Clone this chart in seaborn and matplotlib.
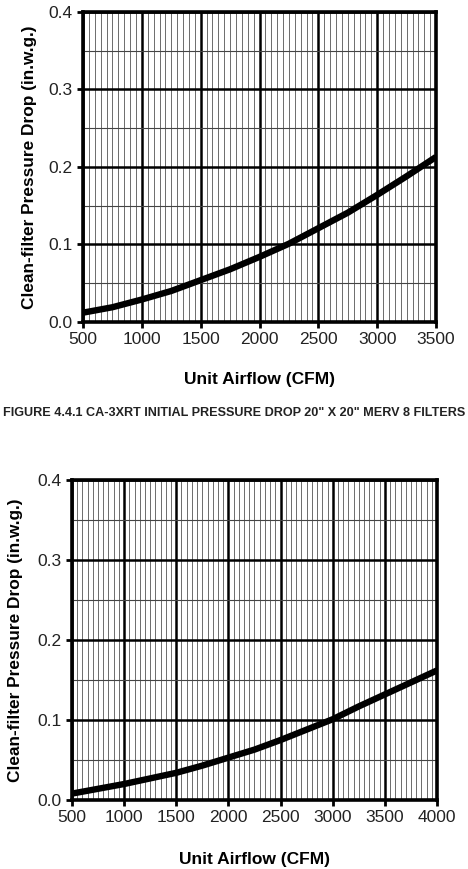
import matplotlib
matplotlib.use("Agg")
import matplotlib.pyplot as plt
import seaborn as sns
import numpy as np
import pandas as pd

# ---- data ----
top_cfm = [500, 750, 1000, 1250, 1500, 1750, 2000, 2250, 2500, 2750, 3000, 3250, 3500]
top_dp = [0.012, 0.019, 0.029, 0.040, 0.054, 0.068, 0.084, 0.101, 0.121, 0.141, 0.164, 0.188, 0.213]
bot_cfm = [500, 750, 1000, 1250, 1500, 1750, 2000, 2250, 2500, 2750, 3000, 3250, 3500, 3750, 4000]
bot_dp = [0.008, 0.014, 0.020, 0.027, 0.034, 0.043, 0.053, 0.063, 0.075, 0.088, 0.101, 0.117, 0.132, 0.147, 0.162]

top_xticks = [500, 1000, 1500, 2000, 2500, 3000, 3500]
bot_xticks = [500, 1000, 1500, 2000, 2500, 3000, 3500, 4000]
yticks = [0.0, 0.1, 0.2, 0.3, 0.4]
xlabel = "Unit Airflow (CFM)"
ylabel = "Clean-filter Pressure Drop (in.w.g.)"
caption = 'FIGURE 4.4.1 CA-3XRT INITIAL PRESSURE DROP 20" X 20" MERV 8 FILTERS'

sns.set_theme(style="white")
plt.rcParams['font.family'] = ['Liberation Sans', 'DejaVu Sans']

fig = plt.figure(figsize=(4.68, 8.69), dpi=100)
ax1 = fig.add_axes([0.1774, 0.6295, 0.7543, 0.3567])
ax2 = fig.add_axes([0.1538, 0.0794, 0.7800, 0.3682])


def style(ax, xs, ys, xticks, ylabpad, xlabpad):
    df = pd.DataFrame({"cfm": xs, "dp": ys})
    xmin, xmax = xticks[0], xticks[-1]
    # minor grid
    ax.set_xticks(np.arange(xmin, xmax + 1, 50), minor=True)
    ax.set_yticks([0.05, 0.15, 0.25, 0.35], minor=True)
    ax.grid(which="minor", axis="x", color="#555555", linewidth=0.6)
    ax.grid(which="minor", axis="y", color="#444444", linewidth=0.8)
    ax.grid(which="major", color="black", linewidth=1.8)
    ax.set_axisbelow(True)
    sns.lineplot(data=df, x="cfm", y="dp", ax=ax, color="black", linewidth=4.6,
                 solid_capstyle="butt", zorder=5)
    ax.set_xlim(xmin, xmax)
    ax.set_ylim(0, 0.4)
    ax.set_xticks(xticks)
    ax.set_xticklabels([str(t) for t in xticks])
    ax.set_yticks(yticks)
    ax.set_yticklabels([f"{t:.1f}" for t in yticks])
    ax.tick_params(which="major", direction="out", length=4, width=2, color="black",
                   labelsize=12.5, labelcolor="#222222", pad=3.5, bottom=True, left=True)
    ax.tick_params(which="minor", length=0)
    for s in ax.spines.values():
        s.set_color("black")
        s.set_linewidth(2.6)
        s.set_visible(True)
    ax.set_xlabel(xlabel, fontsize=12.5, fontweight="bold", labelpad=xlabpad, color="black")
    ax.set_ylabel(ylabel, fontsize=12.4, fontweight="bold", labelpad=ylabpad, color="black")


style(ax1, top_cfm, top_dp, top_xticks, 8.5, 18)
style(ax2, bot_cfm, bot_dp, bot_xticks, 10.5, 19)

fig.text(0.5, 1 - 413 / 869, caption, ha="center", va="center", fontsize=9.1,
         fontweight="bold", color="#222222",
         family=['Liberation Sans Narrow', 'Liberation Sans', 'DejaVu Sans'])

fig.savefig("out.png", dpi=100, facecolor="white")
